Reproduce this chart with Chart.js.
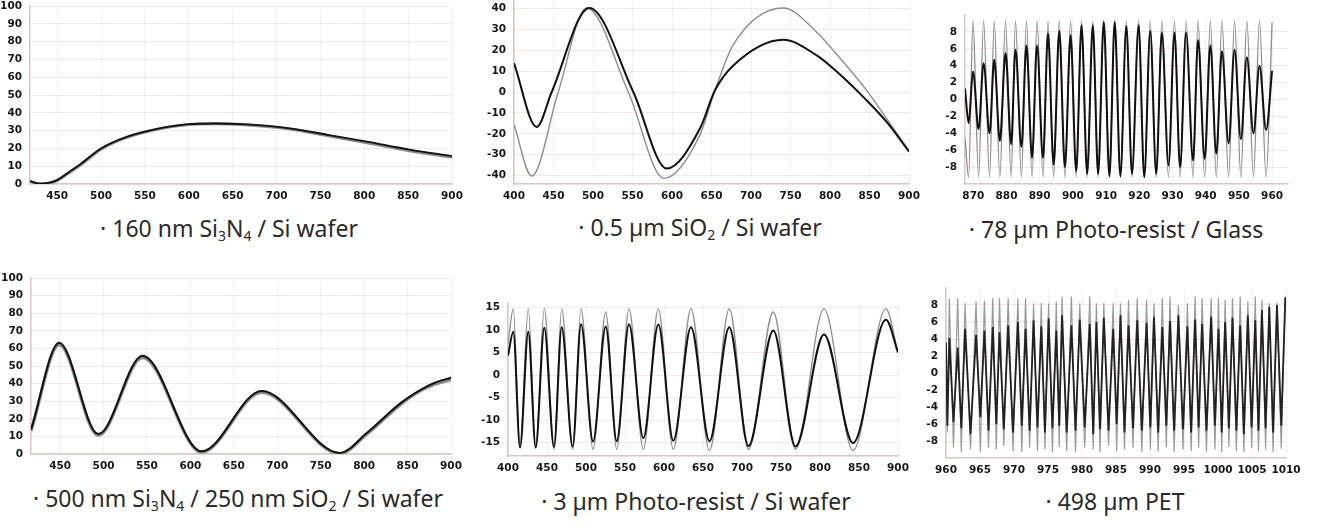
<!DOCTYPE html>
<html><head><meta charset="utf-8">
<script src="https://cdn.jsdelivr.net/npm/chart.js@4.4.1/dist/chart.umd.min.js"></script>
<style>
html,body{margin:0;padding:0;background:#fff;width:1321px;height:530px;overflow:hidden;position:relative;font-family:"Noto Sans",sans-serif;}
.box{position:absolute;}
.ttl{position:absolute;transform:translate(-50%,-50%);white-space:nowrap;font-size:23px;color:#2a2a2a;font-family:"Noto Sans",sans-serif;}
.ttl sub{font-size:14px;vertical-align:-4px;line-height:0;}
</style></head><body>
<div class="ttl" style="left:229px;top:228px">· 160 nm Si<sub>3</sub>N<sub>4</sub> / Si wafer</div>
<div class="ttl" style="left:700px;top:227px">· 0.5 µm SiO<sub>2</sub> / Si wafer</div>
<div class="ttl" style="left:1116px;top:229px">· 78 µm Photo-resist / Glass</div>
<div class="ttl" style="left:238px;top:498px">· 500 nm Si<sub>3</sub>N<sub>4</sub> / 250 nm SiO<sub>2</sub> / Si wafer</div>
<div class="ttl" style="left:696px;top:501px">· 3 µm Photo-resist / Si wafer</div>
<div class="ttl" style="left:1115px;top:501px">· 498 µm PET</div>
<script>
// ---------- Chart 1: 160 nm Si3N4 / Si wafer ----------
const c1X = [419, 425, 430, 440, 450, 464, 476, 500, 530, 555, 600, 630, 660, 715, 760, 803, 850, 900];
const c1Black = [1.7, 0.6, 0.2, 0.6, 2.2, 6.9, 11.0, 20.0, 26.6, 30.0, 33.6, 34.0, 33.6, 31.3, 27.5, 23.8, 19.5, 15.7];
const c1Gray = [1.5, 0.5, 0.1, 0.5, 2.0, 6.5, 10.5, 19.6, 26.3, 29.8, 33.4, 33.8, 33.4, 30.9, 27.0, 23.1, 18.8, 15.0];
const c1XTicks = [450, 500, 550, 600, 650, 700, 750, 800, 850, 900];
const c1YTicks = [0, 10, 20, 30, 40, 50, 60, 70, 80, 90, 100];

// ---------- Chart 2: 0.5 um SiO2 / Si wafer ----------
const c2BlackX = [400, 428.7, 447.7, 495.4, 551, 593.3, 635.4, 654.4, 677.6, 741, 783.2, 804.2, 846.4, 871.7, 900];
const c2Black = [13.8, -16.7, 0, 40.2, 0, -36.6, -17.5, 0.8, 12.7, 25.0, 17.5, 11.2, -4.0, -14.3, -28.5];
const c2GrayX = [400, 422.4, 456, 492, 544.7, 589.9, 635.4, 654.4, 677.6, 741, 783.2, 804.2, 846.4, 871.7, 900];
const c2Gray = [-15.4, -40.2, 0, 40.2, 0, -41.3, -20.5, 0.8, 22.7, 40.2, 28.6, 19.9, 0.8, -12.7, -28.0];
const c2XTicks = [400, 450, 500, 550, 600, 650, 700, 750, 800, 850, 900];
const c2YTicks = [-40, -30, -20, -10, 0, 10, 20, 30, 40];

// ---------- Chart 3: 78 um Photo-resist / Glass ----------
const c3StartX = 867.5, c3BlackStart = 1.3, c3GrayStart = -4.5;
const c3TroughX = [868.6,871.6,874.9,878.0,881.4,884.5,887.7,891.0,894.2,897.6,901.0,904.3,907.6,911.0,914.3,917.8,921.5,925.1,928.8,932.3,936.2,939.7,943.2,946.9,950.6,954.4,958.2];
const c3PeakX = [869.9,873.1,876.3,879.7,882.7,886.0,889.2,892.5,895.9,899.3,902.6,906.0,909.3,912.6,916.1,919.8,923.3,926.8,930.6,934.1,937.7,941.4,944.9,948.7,952.4,956.2,960.0];
const c3BlackTrough = [-2.8,-3.5,-4.0,-4.9,-5.3,-5.6,-6.9,-6.9,-7.7,-8.0,-8.5,-8.8,-8.8,-9.1,-9.1,-8.8,-9.2,-8.8,-7.8,-8.0,-7.2,-7.0,-6.4,-5.2,-4.7,-4.0,-3.6];
const c3BlackPeak = [3.3,4.3,4.7,5.5,5.9,6.4,6.4,7.8,8.1,7.6,8.8,8.8,9.2,9.2,8.7,8.8,8.1,7.9,7.9,7.9,7.0,6.4,5.7,5.9,5.0,4.0,3.4];
const c3GrayTrough = [-9.2,-9.2,-9.2,-9.2,-9.2,-9.2,-9.2,-9.2,-9.2,-9.2,-9.2,-9.2,-9.2,-9.2,-9.2,-9.2,-9.2,-9.2,-9.2,-9.2,-9.2,-9.2,-9.2,-9.2,-9.2,-9.2,-9.2];
const c3GrayPeak = [9.3,9.3,9.3,9.3,9.3,9.3,9.3,9.3,9.3,9.3,9.3,9.3,9.3,9.3,9.3,9.3,9.3,9.3,9.3,9.3,9.3,9.3,9.3,9.3,9.3,9.3,9.1];
const c3XTicks = [870, 880, 890, 900, 910, 920, 930, 940, 950, 960];
const c3YTicks = [-8, -6, -4, -2, 0, 2, 4, 6, 8];

// ---------- Chart 4: 500 nm Si3N4 / 250 nm SiO2 / Si wafer ----------
const c4X = [416.5, 449, 494, 545, 613, 682, 772, 803, 842, 865, 880, 900];
const c4Black = [13.8, 63.2, 11.3, 55.8, 1.5, 35.8, 0.6, 11.9, 28.9, 36.4, 40.2, 43.4];
const c4Gray = [13.0, 62.0, 10.5, 54.8, 1.0, 35.0, 0.2, 11.2, 28.2, 36.0, 39.4, 42.3];
const c4XTicks = [450, 500, 550, 600, 650, 700, 750, 800, 850, 900];
const c4YTicks = [0, 10, 20, 30, 40, 50, 60, 70, 80, 90, 100];

// ---------- Chart 5: 3 um Photo-resist / Si wafer ----------
const c5StartX = 400, c5EndX = 900;
const c5BlackStart = 4.3, c5BlackEnd = 5.0, c5GrayStart = 7.0, c5GrayEnd = 5.0;
const c5PeakX = [406.8,426.0,446.5,468.8,493.6,525.3,555.1,592.7,634.6,683.7,740.1,805.1,884.6];
const c5TroughX = [415.4,435.5,459.0,482.9,509.0,539.4,573.5,611.9,658.3,708.3,768.6,842.3];
const c5BlackPeak = [9.6,9.6,10.5,10.6,11.3,10.8,11.3,11.2,10.6,10.6,9.9,9.0,12.3];
const c5BlackTrough = [-16.1,-16.1,-16.0,-15.9,-14.8,-14.7,-14.0,-14.6,-14.7,-15.8,-15.9,-15.1];
const c5GrayPeak = [14.7,14.7,14.7,14.7,14.7,14.0,14.7,14.7,14.7,14.7,14.0,14.7,14.7];
const c5GrayTrough = [-16.2,-16.2,-16.5,-16.5,-16.5,-16.5,-16.5,-16.5,-16.8,-16.5,-16.5,-16.8];
const c5XTicks = [400, 450, 500, 550, 600, 650, 700, 750, 800, 850, 900];
const c5YTicks = [-15, -10, -5, 0, 5, 10, 15];

// ---------- Chart 6: 498 um PET ----------
const c6StartX = 960, c6BlackStart = 3.6, c6GrayStart = 3.0;
const c6TroughX = [960.2,961.1,962.25,963.6,965.05,966.25,967.4,968.5,969.85,971.15,972.3,973.45,974.55,975.65,976.65,977.75,979.05,980.4,981.65,982.65,983.9,985.1,986.25,987.5,988.8,990.05,991.2,992.4,993.55,994.85,996.05,997.15,998.3,999.55,1000.55,1001.6,1002.7,1003.8,1004.95,1005.95,1007.0,1008.1,1009.3];
const c6PeakX = [960.49,961.72,962.80,964.42,965.65,966.88,967.87,969.14,970.57,971.70,972.88,974.01,975.09,976.22,977.06,978.44,979.67,981.14,982.12,983.21,984.58,985.66,986.84,988.12,989.50,990.58,991.81,992.94,994.17,995.50,996.63,997.66,998.99,1000.07,1001.05,1002.13,1003.26,1004.39,1005.48,1006.46,1007.54,1008.67,1009.90];
const c6GrayPeak = [8.8,8.8,8.2,8.4,8.5,8.8,8.8,8.8,8.8,8.8,8.2,8.2,8.2,8.4,9.0,9.0,8.2,9.0,8.2,8.2,8.2,8.2,8.6,8.8,8.6,8.2,8.8,9.0,8.0,8.2,9.0,8.8,8.8,8.8,8.6,8.8,9.0,8.4,9.0,8.6,8.2,8.3,9.0];
const c6GrayTrough = [-7.0,-8.8,-9.3,-9.0,-9.3,-8.8,-9.0,-8.6,-9.2,-9.3,-8.8,-9.2,-9.0,-9.3,-8.7,-9.2,-9.3,-8.8,-9.0,-9.3,-8.6,-9.2,-9.0,-8.8,-9.3,-9.0,-9.2,-8.7,-9.3,-9.0,-9.2,-8.8,-9.3,-9.0,-9.3,-8.7,-9.2,-9.3,-8.8,-9.2,-9.0,-9.3,-8.9];
const c6BlackPeak = [4.1,3.0,5.2,4.5,5.0,5.4,4.8,5.6,6.0,5.2,6.2,5.5,6.4,5.0,6.8,5.6,6.3,5.8,6.0,6.5,5.2,6.8,5.6,6.2,5.9,6.6,5.4,6.1,6.8,5.5,6.3,5.8,6.6,5.2,6.0,6.5,5.6,6.8,6.2,7.4,7.8,8.0,8.9];
const c6BlackTrough = [-6.2,-5.8,-6.5,-7.2,-5.2,-6.8,-6.0,-6.6,-7.0,-6.2,-6.8,-6.4,-7.0,-6.5,-6.2,-7.0,-6.8,-6.4,-7.2,-6.6,-6.8,-6.0,-7.0,-6.5,-6.8,-6.4,-7.0,-6.2,-6.8,-6.6,-7.0,-6.4,-6.8,-6.2,-7.0,-6.5,-6.8,-7.2,-6.4,-6.8,-6.5,-7.0,-6.2];
const c6XTicks = [960, 965, 970, 975, 980, 985, 990, 995, 1000, 1005, 1010];
const c6YTicks = [-8, -6, -4, -2, 0, 2, 4, 6, 8];

// ---------- helpers that build library data tables ----------
function zip(xs, ys) { return xs.map((x, i) => ({ x: x, y: ys[i] })); }
function weave(sx, sy, xa, ya, xb, yb, ex, ey) {
  const pts = [{ x: sx, y: sy }];
  for (let i = 0; i < xa.length; i++) {
    pts.push({ x: xa[i], y: ya[i] });
    if (i < xb.length) pts.push({ x: xb[i], y: yb[i] });
  }
  if (ex !== undefined) pts.push({ x: ex, y: ey });
  return pts;
}

const BLACK = '#111111', GRAY = '#8c8c8c';
const FONT = { family: '"DejaVu Sans", sans-serif', size: 10.5, weight: 'bold' };

function mk(area, xr, yr, xTicks, yTicks, black, gray, opt) {
  const YW = 44, PT = 12, PR = 16, XH = 28;
  const div = document.createElement('div');
  div.className = 'box';
  div.style.left = (area.l - YW) + 'px';
  div.style.top = (area.t - PT) + 'px';
  const w = area.r - area.l + YW + PR, h = area.b - area.t + PT + XH;
  const cv = document.createElement('canvas');
  cv.width = w; cv.height = h; cv.style.width = w + 'px'; cv.style.height = h + 'px';
  div.appendChild(cv); document.body.appendChild(div);
  const lineBase = opt.smooth ? { cubicInterpolationMode: 'monotone' } : { tension: 0 };
  new Chart(cv, {
    type: 'line',
    data: { datasets: [
      Object.assign({ data: black, borderColor: opt.bc || BLACK, borderWidth: opt.bw, pointRadius: 0, fill: false, order: 0 }, lineBase),
      Object.assign({ data: gray, borderColor: opt.gc || GRAY, borderWidth: opt.gw, pointRadius: 0, fill: false, order: 1 }, lineBase)
    ] },
    options: {
      responsive: false, animation: false, events: [],
      layout: { padding: { top: PT, right: PR, left: 0, bottom: 0 } },
      plugins: { legend: { display: false }, tooltip: { enabled: false } },
      scales: {
        x: {
          type: 'linear', min: xr[0], max: xr[1],
          afterBuildTicks: s => { s.ticks = xTicks.map(v => ({ value: v })); },
          afterFit: s => { s.height = XH; s.paddingLeft = 0; s.paddingRight = 0; },
          ticks: { font: FONT, color: '#161616', padding: 6, maxRotation: 0, autoSkip: false, callback: v => String(v) },
          grid: { color: '#f5f1f1', drawTicks: false },
          border: { color: '#dcc5c5', width: 1.5 }
        },
        y: {
          min: yr[0], max: yr[1],
          afterBuildTicks: s => { s.ticks = yTicks.map(v => ({ value: v })); },
          afterFit: s => { s.width = YW; s.paddingTop = 0; s.paddingBottom = 0; },
          ticks: { font: FONT, color: '#161616', padding: 8, autoSkip: false, callback: v => String(v) },
          grid: { color: '#f3e7e7', drawTicks: false },
          border: { color: '#dcc5c5', width: 1.5 }
        }
      }
    }
  });
}

mk({ l: 30, t: 6, r: 452, b: 184 }, [419, 900], [0, 100], c1XTicks, c1YTicks,
   zip(c1X, c1Black), zip(c1X, c1Gray), { smooth: true, bw: 1.8, gw: 3 });
mk({ l: 514, t: 0, r: 909, b: 184 }, [400, 900], [-44, 44], c2XTicks, c2YTicks,
   zip(c2BlackX, c2Black), zip(c2GrayX, c2Gray), { smooth: true, bw: 2, gw: 1.4 });
mk({ l: 965, t: 15, r: 1288, b: 184 }, [867.5, 964.8], [-10, 10], c3XTicks, c3YTicks,
   weave(c3StartX, c3BlackStart, c3TroughX, c3BlackTrough, c3PeakX, c3BlackPeak),
   weave(c3StartX, c3GrayStart, c3TroughX, c3GrayTrough, c3PeakX, c3GrayPeak), { smooth: true, bw: 2, gw: 1.3 });
mk({ l: 31, t: 278, r: 451, b: 454 }, [416.5, 900], [0, 100], c4XTicks, c4YTicks,
   zip(c4X, c4Black), zip(c4X, c4Gray), { smooth: true, bw: 2, gw: 3.2 });
mk({ l: 508, t: 303, r: 898, b: 456 }, [400, 900], [-18, 16], c5XTicks, c5YTicks,
   weave(c5StartX, c5BlackStart, c5PeakX, c5BlackPeak, c5TroughX, c5BlackTrough, c5EndX, c5BlackEnd),
   weave(c5StartX, c5GrayStart, c5PeakX, c5GrayPeak, c5TroughX, c5GrayTrough, c5EndX, c5GrayEnd), { smooth: true, bw: 2, gw: 1.3 });
mk({ l: 946, t: 288, r: 1286, b: 458 }, [960, 1010], [-10, 10], c6XTicks, c6YTicks,
   weave(c6StartX, c6BlackStart, c6TroughX, c6BlackTrough, c6PeakX, c6BlackPeak),
   weave(c6StartX, c6GrayStart, c6TroughX, c6GrayTrough, c6PeakX, c6GrayPeak), { smooth: false, bw: 1.8, gw: 1.2, bc: '#222222', gc: '#9a9a9a' });
</script>
</body></html>
